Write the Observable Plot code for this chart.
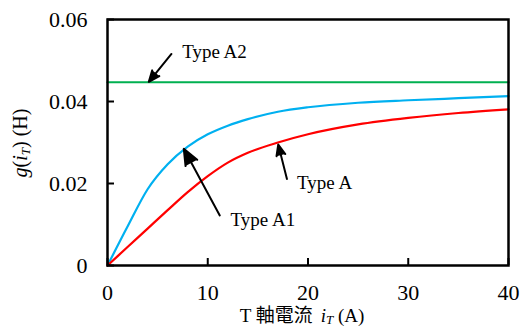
<!DOCTYPE html>
<html><head><meta charset="utf-8">
<script src="https://cdn.jsdelivr.net/npm/d3@7"></script>
<script src="https://cdn.jsdelivr.net/npm/@observablehq/plot@0.6"></script>
<style>body{margin:0;background:#fff}</style>
</head><body><div id="chart"></div>
<script>
// Tick values
const xTicks = [0, 10, 20, 30, 40];
const yTicks = [0, 0.02, 0.04, 0.06];

// Type A (red)
const typeA_x = [0, 2, 4, 6, 8, 10, 12, 14, 17, 20, 25, 30, 35, 40];
const typeA_y = [0, 0.0045, 0.009, 0.0135, 0.0179, 0.0218, 0.0251, 0.0275, 0.03, 0.032, 0.0344, 0.036, 0.0372, 0.0381];
// Type A1 (blue)
const typeA1_x = [0, 2, 4, 6, 8, 10, 12, 14, 17, 20, 25, 30, 35, 40];
const typeA1_y = [0, 0.0095, 0.0186, 0.0247, 0.029, 0.032, 0.0341, 0.0357, 0.0375, 0.0386, 0.0397, 0.0403, 0.0408, 0.0413];
// Type A2 (green)
const typeA2_x = [0, 40];
const typeA2_y = [0.0447, 0.0447];

// Annotations
const labels = ["Type A2", "Type A1", "Type A"];
const labelX = [7.45, 12.27, 18.9];
const labelY = [0.0522, 0.0112, 0.0202];
const arrowX1 = [6.38, 11.2, 17.9];
const arrowY1 = [0.0516, 0.0122, 0.0211];
const arrowX2 = [4.12, 7.61, 17.03];
const arrowY2 = [0.0448, 0.02846, 0.0295];

const serif = "\"Liberation Serif\", \"DejaVu Serif\", \"Noto Serif\", Tinos, \"Times New Roman\", Times, serif";

const toRows = (xs, ys) => xs.map((x, i) => ({x, y: ys[i]}));
const seriesA = toRows(typeA_x, typeA_y);
const seriesA1 = toRows(typeA1_x, typeA1_y);
const seriesA2 = toRows(typeA2_x, typeA2_y);
const notes = labels.map((t, i) => ({t, x: labelX[i], y: labelY[i]}));
const arrows = arrowX1.map((x1, i) => ({x1, y1: arrowY1[i], x2: arrowX2[i], y2: arrowY2[i]}));

const plot = Plot.plot({
  width: 521,
  height: 328,
  marginLeft: 107,
  marginRight: 13,
  marginTop: 19,
  marginBottom: 63,
  style: {fontFamily: serif, fontSize: "22px", background: "#fff", color: "#000", overflow: "visible"},
  x: {domain: [0, 40]},
  y: {domain: [0, 0.06]},
  marks: [
    Plot.line(seriesA2, {x: "x", y: "y", stroke: "#00b050", strokeWidth: 2.2}),
    Plot.line(seriesA1, {x: "x", y: "y", stroke: "#00b0f0", strokeWidth: 2.2, curve: "monotone-x"}),
    Plot.line(seriesA, {x: "x", y: "y", stroke: "#ff0000", strokeWidth: 2.2, curve: "monotone-x"}),
    Plot.arrow(arrows, {x1: "x1", y1: "y1", x2: "x2", y2: "y2", stroke: "#000", fill: "#000", strokeWidth: 2, headLength: 13, headAngle: 45}),
    Plot.text(notes, {x: "x", y: "y", text: "t", textAnchor: "start", fontSize: 19, fontFamily: serif, fill: "#000"}),
    Plot.axisX({ticks: xTicks, tickSize: -7, tickPadding: 26, strokeWidth: 2, tickFormat: d => String(d), fontSize: 22, fontFamily: serif, label: null}),
    Plot.axisY({ticks: yTicks, tickSize: -7, tickPadding: 27, strokeWidth: 2, tickFormat: d => d === 0 ? "0" : d.toFixed(2), fontSize: 22, fontFamily: serif, label: null}),
    Plot.frame({stroke: "#000", strokeWidth: 2.5})
  ]
});

const svg = d3.select(plot);
// x-axis title
const xt = svg.append("text")
  .attr("x", 302).attr("y", 322)
  .attr("text-anchor", "middle")
  .attr("font-size", 19)
  .style("font-family", serif)
  .attr("fill", "#000");
xt.append("tspan").text("T ");
xt.append("tspan").style("font-family", "\"Noto Sans CJK TC\", sans-serif").text("軸電流");
xt.append("tspan").attr("font-style", "italic").attr("dx", 8).text("i");
xt.append("tspan").attr("font-style", "italic").attr("font-size", 13).attr("dy", 2).text("T");
xt.append("tspan").attr("dy", -2).text(" (A)");

// y-axis title
const yt = svg.append("text")
  .attr("transform", "translate(27,143) rotate(-90)")
  .attr("text-anchor", "middle")
  .attr("font-size", 20)
  .style("font-family", serif)
  .attr("fill", "#000");
yt.append("tspan").attr("font-style", "italic").text("g");
yt.append("tspan").text("(");
yt.append("tspan").attr("font-style", "italic").text("i");
yt.append("tspan").attr("font-style", "italic").attr("font-size", 13).attr("dy", 3).text("T");
yt.append("tspan").attr("dy", -3).text(") (H)");

document.getElementById("chart").append(plot);
</script>
</body></html>
